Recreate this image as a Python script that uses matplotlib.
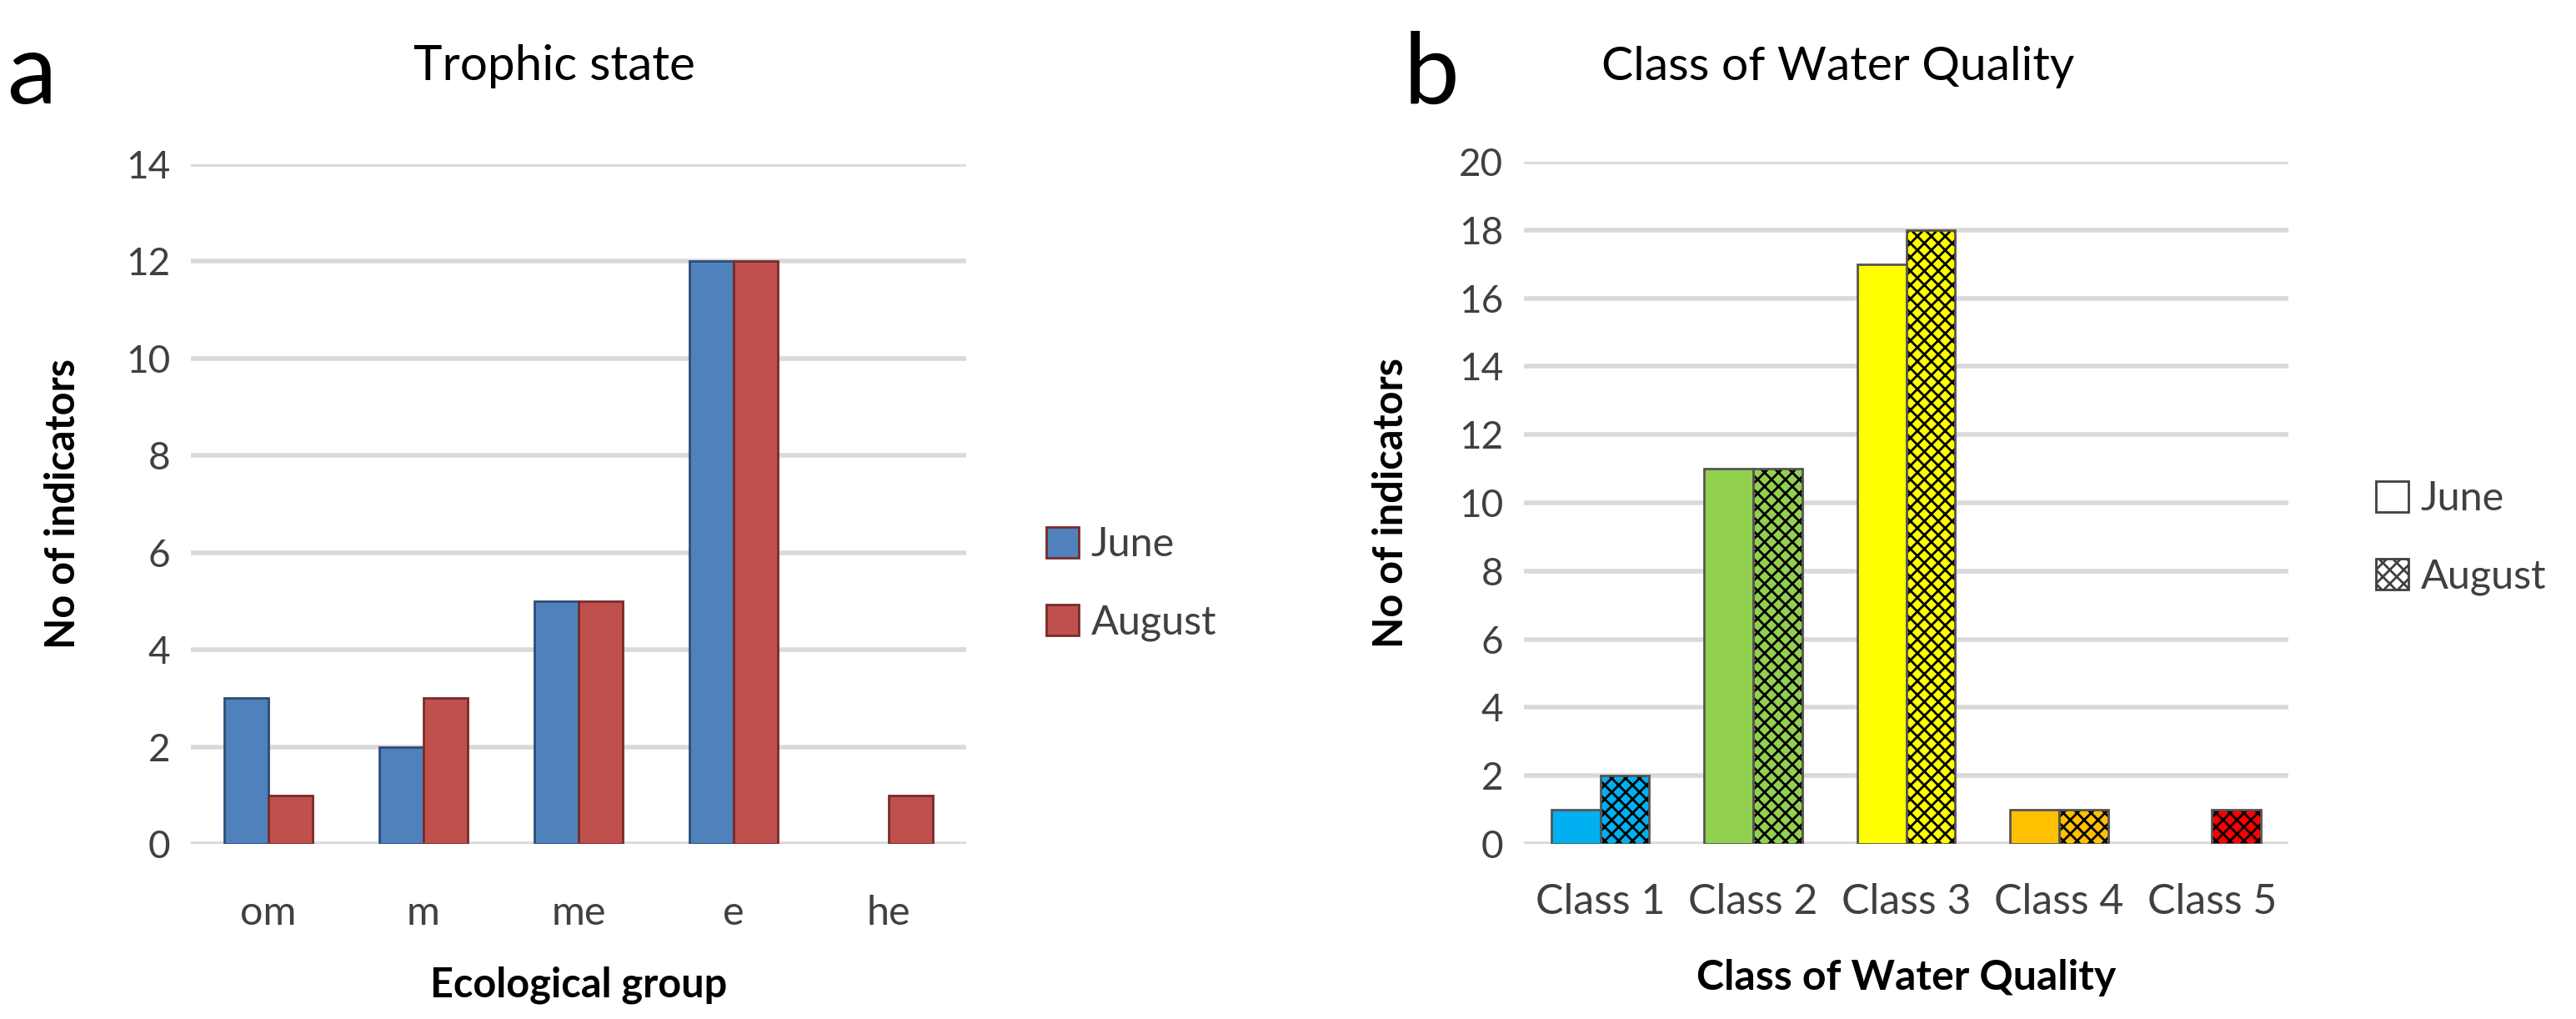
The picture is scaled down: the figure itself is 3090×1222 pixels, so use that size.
import numpy as np
import matplotlib
matplotlib.use("Agg")
import matplotlib.pyplot as plt
from matplotlib.patches import Patch

plt.rcParams['font.family'] = ['Lato', 'DejaVu Sans']
plt.rcParams['hatch.linewidth'] = 2.0

# panel a - trophic state
groups = ['om', 'm', 'me', 'e', 'he']
june_a = [3, 2, 5, 12, 0]
august_a = [1, 3, 5, 12, 1]

# panel b - class of water quality
classes = ['Class 1', 'Class 2', 'Class 3', 'Class 4', 'Class 5']
june_b = [1, 11, 17, 1, 0]
august_b = [2, 11, 18, 1, 1]
class_colors = ['#00B0F0', '#92D050', '#FFFF00', '#FFC000', '#FF0000']

W, H = 3090, 1222
fig = plt.figure(figsize=(W / 100, H / 100), dpi=100)


def box(x0, x1, ytop, ybot):
    return [x0 / W, 1 - ybot / H, (x1 - x0) / W, (ybot - ytop) / H]


def edges(vals, c):
    # no outline for empty bars (Excel draws nothing there)
    return [c if v > 0 else 'none' for v in vals]


def style(ax, ymax):
    ax.set_ylim(0, ymax)
    ax.set_yticks(np.arange(0, ymax + 1, 2))
    ax.set_xlim(-0.5, 4.5)
    for s in ax.spines.values():
        s.set_visible(False)
    ax.tick_params(length=0, labelsize=33, colors='#404040', pad=18)
    ax.yaxis.grid(True, color='#D9D9D9', linewidth=4)
    ax.set_axisbelow(True)


leg_kw = dict(frameon=False, fontsize=35, handlelength=0.8, handleheight=0.8, handletextpad=0.3,
              labelspacing=1.0, borderpad=0, borderaxespad=0, labelcolor='#404040')

# ---- left chart
ax1 = fig.add_axes(box(229, 1159, 197, 1012))
x = np.arange(len(groups))
w = 0.285
ax1.bar(x - w / 2, june_a, w, color='#4F81BD', edgecolor=edges(june_a, '#2C4D75'), linewidth=2, label='June')
ax1.bar(x + w / 2, august_a, w, color='#C0504D', edgecolor=edges(august_a, '#772C2A'), linewidth=2, label='August')
style(ax1, 14)
ax1.set_xticks(x)
ax1.set_xticklabels(groups, fontsize=35)
ax1.tick_params(axis='x', pad=44)
ax1.set_ylabel('No of indicators', fontsize=35, fontweight='bold', labelpad=38)
ax1.set_xlabel('Ecological group', fontsize=35, fontweight='bold', labelpad=30)
h1, l1 = ax1.get_legend_handles_labels()
ax1.legend(h1, l1, loc='center left', bbox_to_anchor=(1255 / W, 1 - 700 / H), bbox_transform=fig.transFigure,
           **leg_kw)
for hnd in ax1.get_legend().legend_handles:
    hnd.set_edgecolor('#2C4D75' if hnd.get_label() == 'June' else '#772C2A')

# ---- right chart
ax2 = fig.add_axes(box(1828, 2745, 194, 1012))
w2 = 0.32
ax2.bar(x - w2 / 2, june_b, w2, color=class_colors, edgecolor=edges(june_b, '#555555'), linewidth=2)
ax2.bar(x + w2 / 2, august_b, w2, color=class_colors, edgecolor='black', hatch='xx', linewidth=0)
ax2.bar(x + w2 / 2, august_b, w2, fill=False, edgecolor=edges(august_b, '#555555'), linewidth=2)
style(ax2, 20)
ax2.set_xticks(x)
ax2.set_xticklabels(classes, fontsize=36)
ax2.tick_params(axis='x', pad=34)
ax2.set_ylabel('No of indicators', fontsize=35, fontweight='bold', labelpad=42)
ax2.set_xlabel('Class of Water Quality', fontsize=36, fontweight='bold', labelpad=32)
leg_handles = [Patch(facecolor='white', edgecolor='#404040', linewidth=2),
               Patch(facecolor='white', edgecolor='#404040', hatch='xx', linewidth=2)]
ax2.legend(leg_handles, ['June', 'August'], loc='center left',
           bbox_to_anchor=(2850 / W, 1 - 645 / H), bbox_transform=fig.transFigure, **leg_kw)

# titles and panel letters
fig.text(665 / W, 1 - 80 / H, 'Trophic state', fontsize=42, ha='center', va='center')
fig.text(2205 / W, 1 - 80 / H, 'Class of Water Quality', fontsize=41, ha='center', va='center')
fig.text(8 / W, 1 - 124 / H, 'a', fontsize=86, ha='left', va='baseline')
fig.text(1684 / W, 1 - 124 / H, 'b', fontsize=86, ha='left', va='baseline')

fig.savefig('out.png', dpi=100, facecolor='white')
